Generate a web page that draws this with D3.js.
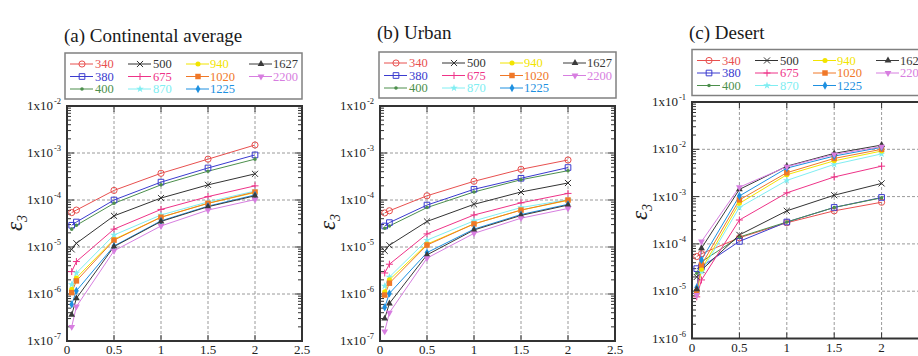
<!DOCTYPE html>
<html>
<head>
<meta charset="utf-8">
<script src="https://cdn.jsdelivr.net/npm/d3@7"></script>
<style>
  body { margin: 0; background: #fff; }
  svg text { font-family: "Liberation Serif", "Times New Roman", serif; }
</style>
</head>
<body>
<script>
// Data
const xValues = [0.05, 0.1, 0.5, 1, 1.5, 2];
const wavelengths = ["340", "380", "400", "500", "675", "870", "940", "1020", "1225", "1627", "2200"];
const colors = ["#e8504f", "#3b3bcf", "#4c8f4c", "#333333", "#ee3388", "#80eef2", "#f2e400", "#f07828", "#1e90e0", "#3a3a3a", "#d77ee0"];
const markers = ["openCircle", "openSquare", "dot", "cross", "plus", "star", "circle", "square", "diamond", "triangle", "triangleDown"];

const continental = [
    [5.4e-5, 6.1e-5, 1.6e-4, 3.7e-4, 7.4e-4, 1.48e-3],
    [2.9e-5, 3.4e-5, 1.0e-4, 2.4e-4, 4.8e-4, 9.1e-4],
    [2.4e-5, 2.9e-5, 8.5e-5, 2.1e-4, 4.1e-4, 7.4e-4],
    [8.9e-6, 1.2e-5, 4.6e-5, 1.1e-4, 2.1e-4, 3.6e-4],
    [3.0e-6, 4.9e-6, 2.4e-5, 6.3e-5, 1.18e-4, 2.0e-4],
    [1.6e-6, 2.8e-6, 1.8e-5, 4.8e-5, 9.1e-5, 1.55e-4],
    [1.26e-6, 2.2e-6, 1.45e-5, 4.3e-5, 8.5e-5, 1.44e-4],
    [1.07e-6, 1.9e-6, 1.4e-5, 4.3e-5, 8.5e-5, 1.48e-4],
    [6.0e-7, 1.17e-6, 1.05e-5, 3.6e-5, 7.4e-5, 1.28e-4],
    [3.6e-7, 8.1e-7, 1.02e-5, 3.5e-5, 7.2e-5, 1.23e-4],
    [2.0e-7, 5.4e-7, 8.3e-6, 2.8e-5, 6.1e-5, 1.02e-4]
];

const urban = [
    [5.3e-5, 5.9e-5, 1.23e-4, 2.5e-4, 4.5e-4, 7.1e-4],
    [2.8e-5, 3.3e-5, 7.8e-5, 1.69e-4, 2.9e-4, 4.9e-4],
    [2.5e-5, 2.8e-5, 6.9e-5, 1.48e-4, 2.7e-4, 4.2e-4],
    [8.3e-6, 1.09e-5, 3.5e-5, 8.1e-5, 1.48e-4, 2.3e-4],
    [2.8e-6, 4.3e-6, 1.9e-5, 4.8e-5, 8.7e-5, 1.38e-4],
    [1.48e-6, 2.3e-6, 1.4e-5, 3.6e-5, 6.9e-5, 1.02e-4],
    [1.12e-6, 2.0e-6, 1.15e-5, 3.1e-5, 6.1e-5, 9.8e-5],
    [9.5e-7, 1.7e-6, 1.1e-5, 3.1e-5, 6.1e-5, 1.0e-4],
    [5.2e-7, 1.03e-6, 7.6e-6, 2.4e-5, 4.9e-5, 8.1e-5],
    [3.0e-7, 6.3e-7, 6.8e-6, 2.3e-5, 4.7e-5, 7.8e-5],
    [1.6e-7, 4.0e-7, 5.8e-6, 1.95e-5, 4.1e-5, 6.6e-5]
];

const desert = [
    [5.4e-5, 6.2e-5, 1.35e-4, 2.8e-4, 5.0e-4, 7.6e-4],
    [3.0e-5, 3.3e-5, 1.13e-4, 2.9e-4, 5.9e-4, 9.6e-4],
    [2.4e-5, 4.2e-5, 1.4e-4, 2.9e-4, 5.9e-4, 9.4e-4],
    [2.0e-5, 2.8e-5, 1.55e-4, 5.0e-4, 1.07e-3, 1.9e-3],
    [7.6e-6, 1.73e-5, 3.2e-4, 1.2e-3, 2.6e-3, 4.4e-3],
    [9.2e-6, 2.6e-5, 5.9e-4, 2.2e-3, 4.8e-3, 8.0e-3],
    [8.7e-6, 2.9e-5, 7.2e-4, 2.9e-3, 5.7e-3, 9.2e-3],
    [9.8e-6, 3.6e-5, 8.5e-4, 3.2e-3, 6.4e-3, 1.0e-2],
    [1.2e-5, 4.6e-5, 1.03e-3, 4.0e-3, 7.2e-3, 1.1e-2],
    [1.1e-5, 8.1e-5, 1.42e-3, 4.4e-3, 8.2e-3, 1.23e-2],
    [8.3e-6, 1.12e-4, 1.58e-3, 4.3e-3, 7.8e-3, 1.14e-2]
];

const xTicks = [0, 0.5, 1, 1.5, 2, 2.5];

const svg = d3.select("body").append("svg")
    .attr("width", 918)
    .attr("height", 356);

function drawMarker(g, type, color, x, y) {
    const sym = {
        openCircle: [d3.symbolCircle, 30, false],
        openSquare: [d3.symbolSquare, 32, false],
        dot: [d3.symbolCircle, 10, true],
        cross: [d3.symbolX, 26, false],
        plus: [d3.symbolCross, 26, false],
        star: [d3.symbolStar, 18, true],
        circle: [d3.symbolCircle, 20, true],
        square: [d3.symbolSquare, 30, true],
        diamond: [d3.symbolDiamond, 20, true],
        triangle: [d3.symbolTriangle, 20, true],
        triangleDown: [d3.symbolTriangle, 20, true]
    }[type];
    const p = g.append("path")
        .attr("d", d3.symbol().type(sym[0]).size(sym[1])())
        .attr("transform", `translate(${x},${y})` + (type === "triangleDown" ? " rotate(180)" : ""));
    if (type === "cross") {
        p.attr("fill", "none").attr("stroke", color).attr("stroke-width", 1);
    } else if (type === "plus") {
        p.attr("d", "M-3.5,0H3.5M0,-3.5V3.5").attr("fill", "none").attr("stroke", color).attr("stroke-width", 1);
    } else if (sym[2]) {
        p.attr("fill", color);
    } else {
        p.attr("fill", "none").attr("stroke", color).attr("stroke-width", 1);
    }
}

function drawPanel(cfg) {
    const g = svg.append("g");
    const x = d3.scaleLinear().domain([0, 2.5]).range([cfg.left, cfg.left + cfg.width]);
    const y = d3.scaleLog().domain(cfg.yDomain).range([cfg.top + cfg.height, cfg.top]);
    const decades = d3.range(Math.log10(cfg.yDomain[0]), Math.log10(cfg.yDomain[1]) + 1).map(e => Math.pow(10, e));

    // Title
    g.append("text")
        .attr("x", cfg.left - 3)
        .attr("y", cfg.titleY)
        .attr("font-size", 19)
        .attr("fill", "#1a1a1a")
        .text(cfg.title);

    // Grid
    g.append("g").selectAll("line.gx")
        .data(xTicks.slice(1, -1))
        .join("line")
        .attr("x1", d => x(d)).attr("x2", d => x(d))
        .attr("y1", cfg.top).attr("y2", cfg.top + cfg.height)
        .attr("stroke", "#9a9a9a").attr("stroke-dasharray", "3,2").attr("stroke-width", 1);
    g.append("g").selectAll("line.gy")
        .data(decades.slice(1, -1))
        .join("line")
        .attr("x1", cfg.left).attr("x2", cfg.left + cfg.width)
        .attr("y1", d => y(d)).attr("y2", d => y(d))
        .attr("stroke", "#9a9a9a").attr("stroke-dasharray", "3,2").attr("stroke-width", 1);

    // Minor log ticks on left and right edges
    const minor = [];
    decades.slice(0, -1).forEach(dv => { for (let k = 2; k <= 9; k++) minor.push(dv * k); });
    const tickG = g.append("g").attr("stroke", "#333").attr("stroke-width", 1);
    [cfg.left, cfg.left + cfg.width].forEach((ex, i) => {
        const dir = i === 0 ? 1 : -1;
        tickG.selectAll(null).data(minor).join("line")
            .attr("x1", ex).attr("x2", ex + dir * 4)
            .attr("y1", d => y(d)).attr("y2", d => y(d));
        tickG.selectAll(null).data(decades).join("line")
            .attr("x1", ex).attr("x2", ex + dir * 7)
            .attr("y1", d => y(d)).attr("y2", d => y(d));
    });
    [cfg.top, cfg.top + cfg.height].forEach((ey, i) => {
        const dir = i === 0 ? 1 : -1;
        tickG.selectAll(null).data(xTicks).join("line")
            .attr("x1", d => x(d)).attr("x2", d => x(d))
            .attr("y1", ey).attr("y2", ey + dir * 6);
    });

    // Y tick labels "1x10^-n"
    decades.forEach(dv => {
        g.append("text")
            .attr("x", cfg.left - 14)
            .attr("y", y(dv) + 4)
            .attr("text-anchor", "end")
            .attr("font-size", 13)
            .attr("fill", "#222")
            .text("1x10");
        g.append("text")
            .attr("x", cfg.left - 13)
            .attr("y", y(dv) - 2)
            .attr("font-size", 8.5)
            .attr("fill", "#222")
            .text(String(Math.round(Math.log10(dv))));
    });

    // X tick labels
    g.append("g").selectAll("text")
        .data(xTicks)
        .join("text")
        .attr("x", d => x(d))
        .attr("y", cfg.top + cfg.height + 13)
        .attr("text-anchor", "middle")
        .attr("font-size", 13)
        .attr("fill", "#222")
        .text(d => d);

    // Y axis label
    const yl = g.append("text")
        .attr("transform", `translate(${cfg.left - 45},${cfg.labelY}) rotate(-90)`)
        .attr("text-anchor", "middle")
        .attr("font-size", 23)
        .attr("font-style", "italic")
        .attr("fill", "#222");
    yl.append("tspan").text("ε");
    yl.append("tspan").attr("font-size", 14).attr("dy", 5).text("3");

    // Series lines and markers
    const line = d3.line().x((d, i) => x(xValues[i])).y(d => y(d));
    cfg.data.forEach((vals, si) => {
        g.append("path")
            .attr("d", line(vals))
            .attr("fill", "none")
            .attr("stroke", colors[si])
            .attr("stroke-width", 1);
    });
    cfg.data.forEach((vals, si) => {
        vals.forEach((v, i) => drawMarker(g, markers[si], colors[si], x(xValues[i]), y(v)));
    });

    // Frame
    g.append("rect")
        .attr("x", cfg.left).attr("y", cfg.top)
        .attr("width", cfg.width).attr("height", cfg.height)
        .attr("fill", "none").attr("stroke", "#333").attr("stroke-width", 2);

    // Legend
    const lg = g.append("g").attr("transform", `translate(${cfg.legendX},${cfg.legendY})`);
    lg.append("rect")
        .attr("width", 237).attr("height", 46)
        .attr("fill", "#fff").attr("stroke", "#808080").attr("stroke-width", 1.5);
    const lineX = [5, 63, 121, 184];
    const textX = [30, 88, 145, 208];
    const rowY = [11, 23.5, 36];
    wavelengths.forEach((w, si) => {
        const col = Math.floor(si / 3), row = si % 3;
        lg.append("line")
            .attr("x1", lineX[col]).attr("x2", lineX[col] + 23)
            .attr("y1", rowY[row]).attr("y2", rowY[row])
            .attr("stroke", colors[si]).attr("stroke-width", 1);
        drawMarker(lg, markers[si], colors[si], lineX[col] + 12, rowY[row]);
        lg.append("text")
            .attr("x", textX[col])
            .attr("y", rowY[row] + 4.3)
            .attr("font-size", 12.5)
            .attr("fill", colors[si])
            .text(w);
    });
}

drawPanel({ title: "(a) Continental average", data: continental, yDomain: [1e-7, 1e-2],
    left: 67, top: 106, width: 235, height: 235, titleY: 42, legendX: 65, legendY: 53, labelY: 223 });
drawPanel({ title: "(b) Urban", data: urban, yDomain: [1e-7, 1e-2],
    left: 380, top: 106, width: 235, height: 235, titleY: 39, legendX: 379, legendY: 52, labelY: 222 });
drawPanel({ title: "(c) Desert", data: desert, yDomain: [1e-6, 1e-1],
    left: 692, top: 102, width: 237, height: 236.5, titleY: 39, legendX: 692, legendY: 49.5, labelY: 212 });
</script>
</body>
</html>
